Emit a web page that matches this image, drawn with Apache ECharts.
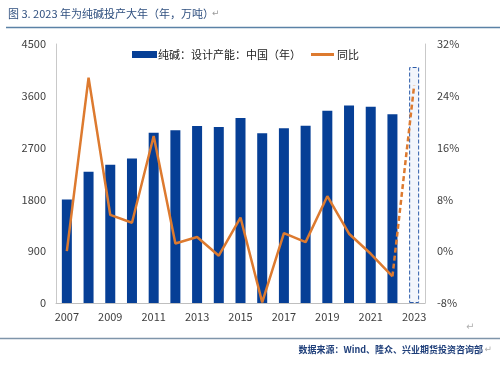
<!DOCTYPE html>
<html><head><meta charset="utf-8">
<script src="https://cdn.jsdelivr.net/npm/echarts@6/dist/echarts.min.js"></script>
<style>html,body{margin:0;padding:0;background:#fff}#c{width:500px;height:366px}</style>
</head><body><div id="c"></div>
<script>
var years = ['2007','2008','2009','2010','2011','2012','2013','2014','2015','2016','2017','2018','2019','2020','2021','2022','2023'];
var capacity = [1800,2280,2400,2510,2960,3000,3075,3060,3215,2950,3035,3080,3340,3430,3410,3280,4100];
var yoy = [0.0,26.8,5.6,4.4,17.8,1.2,2.2,-0.7,5.2,-7.9,2.8,1.4,8.5,2.7,-0.4,-3.9,25.6];
var leftTicks = [0,900,1800,2700,3600,4500];
var rightTicks = [-8,0,8,16,24,32];

var barData = capacity.map(function(v,i){
  if (i === capacity.length-1) {
    return {value:v, itemStyle:{color:'#f2f5fb', borderColor:'#2a5aa8', borderWidth:1, borderType:'dashed'}};
  }
  return v;
});
var solidLine = yoy.map(function(v,i){ return i < yoy.length-1 ? v : null; });
var dashLine = yoy.map(function(v,i){ return i >= yoy.length-2 ? v : null; });

var chart = echarts.init(document.getElementById('c'), null, {renderer:'canvas'});
var font = "'Microsoft YaHei','Noto Sans CJK SC',sans-serif";
chart.setOption({
  animation:false,
  textStyle:{fontFamily:font},
  grid:{left:56, right:75, top:44, bottom:63},
  legend:[{
    top:44, left:127, itemWidth:25, itemHeight:7, itemGap:0,
    textStyle:{fontSize:11, color:'#222', fontFamily:font, padding:[0,0,0,-4]},
    data:[{name:'纯碱：设计产能：中国（年）', icon:'rect'}]
  },{
    top:44, left:306, itemWidth:23, itemHeight:3, itemGap:0,
    textStyle:{fontSize:11, color:'#222', fontFamily:font, padding:[0,0,0,-2]},
    data:[{name:'同比', icon:'rect'}]
  }],
  xAxis:{
    type:'category', data:years, boundaryGap:true,
    axisLine:{lineStyle:{color:'#bfbfbf'}},
    axisTick:{show:false},
    axisLabel:{interval:1, color:'#404040', fontSize:11, margin:8}
  },
  yAxis:[{
    type:'value', min:leftTicks[0], max:leftTicks[leftTicks.length-1], interval:900,
    axisLine:{show:true, lineStyle:{color:'#c9c9c9'}},
    axisTick:{show:false}, splitLine:{show:false},
    axisLabel:{color:'#404040', fontSize:11, margin:10, formatter:function(v){return String(v);}}
  },{
    type:'value', min:rightTicks[0], max:rightTicks[rightTicks.length-1], interval:8,
    axisLine:{show:true, lineStyle:{color:'#c9c9c9'}},
    axisTick:{show:false}, splitLine:{show:false},
    axisLabel:{color:'#404040', fontSize:11, margin:12, formatter:'{value}%'}
  }],
  series:[{
    name:'纯碱：设计产能：中国（年）', type:'bar', data:barData, barWidth:10,
    itemStyle:{color:'#063f96'}
  },{
    name:'同比', type:'line', yAxisIndex:1, data:solidLine, symbol:'none',
    lineStyle:{color:'#dd7a2f', width:2.5}, itemStyle:{color:'#dd7a2f'}, z:5
  },{
    name:'同比预测', type:'line', yAxisIndex:1, data:dashLine, symbol:'none',
    lineStyle:{color:'#dd7a2f', width:2.5, type:[5,3]}, itemStyle:{color:'#dd7a2f'}, z:5
  }],
  graphic:[
    {type:'text', left:8, top:8, style:{text:'图 3. 2023 年为纯碱投产大年（年，万吨）', fill:'#2f4f7f', font:"11px "+font}},
    {type:'text', left:212, top:9, style:{text:'↵', fill:'#9a9a9a', font:"9px 'DejaVu Sans'"}},
    {type:'line', shape:{x1:6, y1:27.5, x2:500, y2:27.5}, style:{stroke:'#5b82a6', lineWidth:1.5}},
    {type:'text', left:466, top:322, style:{text:'↵', fill:'#b0b0b0', font:"10px 'DejaVu Sans'"}},
    {type:'line', shape:{x1:0, y1:338.5, x2:500, y2:338.5}, style:{stroke:'#7f95aa', lineWidth:1.5}},
    {type:'text', right:17, top:345, style:{text:'数据来源：Wind、隆众、兴业期货投资咨询部', fill:'#1f3f7a', font:"bold 9px "+font}},
    {type:'text', right:8, top:345, style:{text:'↵', fill:'#b0b0b0', font:"9px 'DejaVu Sans'"}}
  ]
});
</script></body></html>
